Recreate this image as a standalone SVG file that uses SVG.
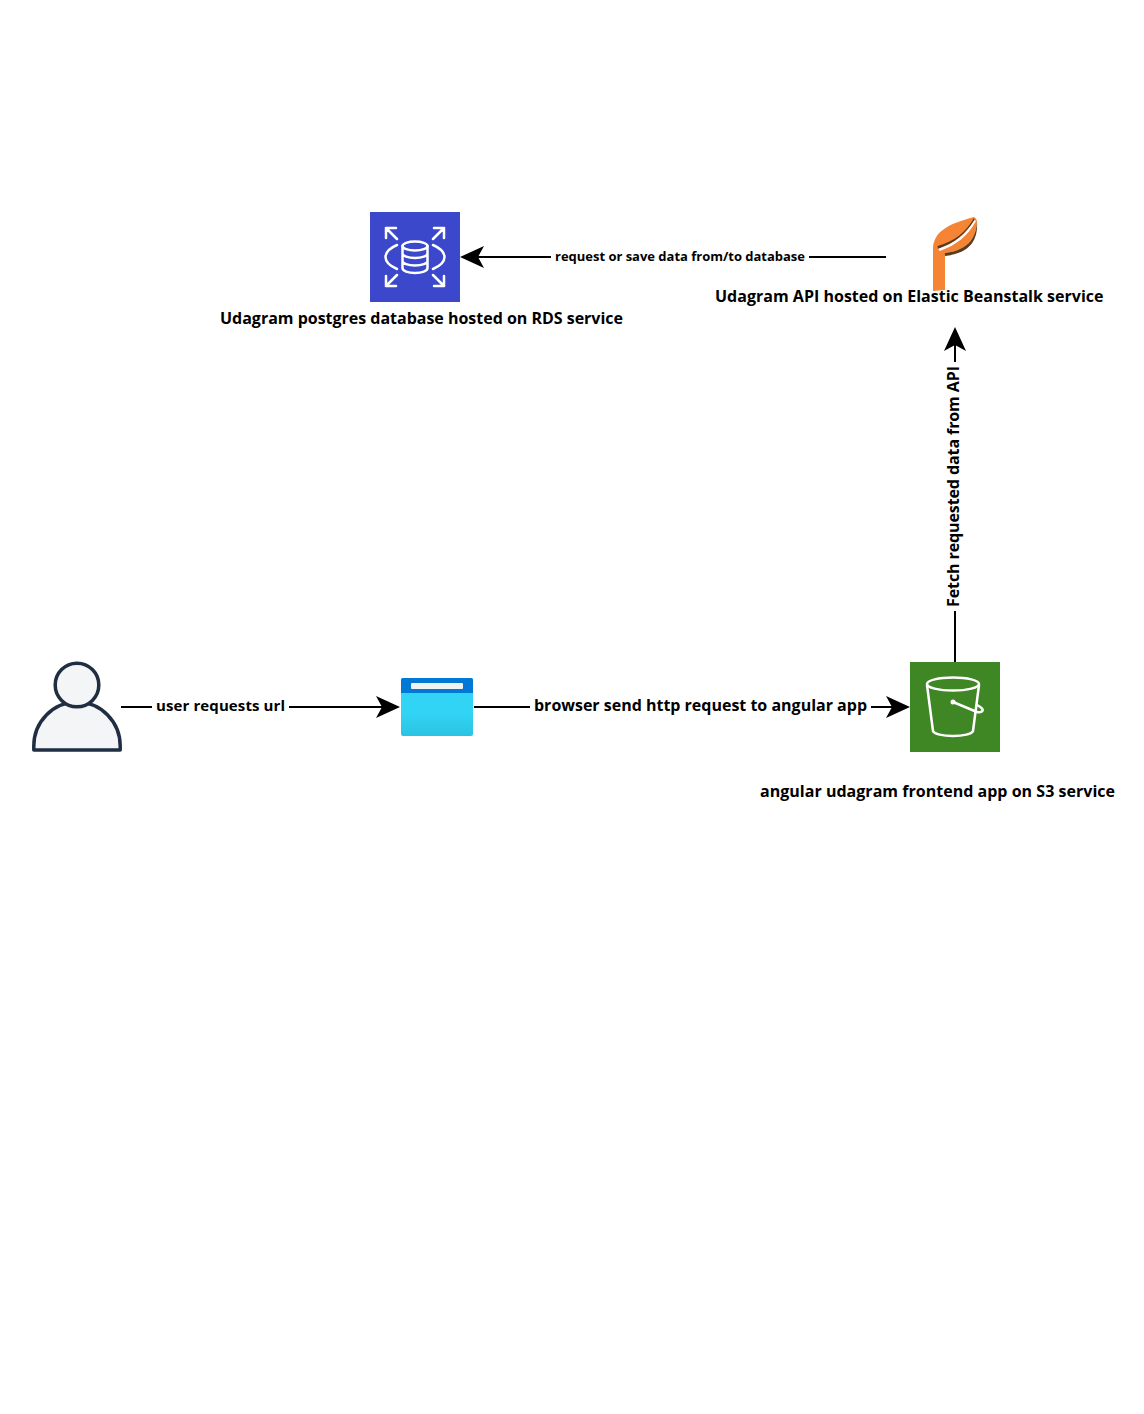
<svg xmlns="http://www.w3.org/2000/svg" width="1144" height="1414" viewBox="0 0 1144 1414">
<style>
text{font-family:"Open Sans","Noto Sans",sans-serif;font-weight:700;fill:#000}
.n{font-size:16px}
.e{font-size:15px}
.s{font-size:13px}
.c{fill:none;stroke:#000;stroke-width:2}
.w{fill:none;stroke:#fff;stroke-width:2.500;stroke-linejoin:round;stroke-linecap:round}
.bg{fill:#fff}
</style>
<defs>
<path id="ah" d="M0 0L-24 -11L-18 0L-24 11Z" fill="#000"/>
<linearGradient id="bgrad" x1="0" y1="0" x2="0" y2="1"><stop offset="0.600" stop-color="#32d4f5"/><stop offset="1" stop-color="#2cc3e3"/></linearGradient>
</defs>
<rect width="1144" height="1414" fill="#fff"/>
<g id="connectors">
<path class="c" d="M121 707H382"/><use href="#ah" transform="translate(400 707)"/>
<path class="c" d="M474 707H893"/><use href="#ah" transform="translate(910 707)"/>
<path class="c" d="M955 662V345"/><use href="#ah" transform="translate(955 327) rotate(-90)"/>
<path class="c" d="M886 257H478"/><use href="#ah" transform="translate(460 257) rotate(180)"/>
<rect class="bg" x="152" y="695" width="137" height="22"/>
<rect class="bg" x="530" y="695" width="341" height="22"/>
<rect class="bg" x="944" y="362" width="22" height="249"/>
<rect class="bg" x="551" y="247" width="258" height="20"/>
<text class="e" x="156" y="711" textLength="129">user requests url</text>
<text class="n" x="534" y="711" textLength="333">browser send http request to angular app</text>
<text class="n" transform="translate(959 607) rotate(-90)" textLength="241">Fetch requested data from API</text>
<text class="s" x="555" y="261" textLength="250">request or save data from/to database</text>
</g>
<g id="rds">
<rect x="370" y="212" width="90" height="90" fill="#3b48cc"/>
<path class="w" d="M397 245C390 248 385.500 252 385.500 257C385.500 262 390 266 397 269M433 245C440 248 444.500 252 444.500 257C444.500 262 440 266 433 269"/>
<ellipse class="w" cx="415" cy="246" rx="12.500" ry="4.500"/>
<path class="w" d="M402.500 246V268C402.500 271 408 273 415 273C422 273 427.500 271 427.500 268V246M402.500 253.500C402.500 256 408 258 415 258C422 258 427.500 256 427.500 253.500M402.500 261C402.500 263.500 408 265.500 415 265.500C422 265.500 427.500 263.500 427.500 261"/>
<path class="w" d="M386 238V228H396M386 228L397 239M444 238V228H434M444 228L433 239M386 276V286H396M386 286L397 275M444 276V286H434M444 286L433 275"/>
<text class="n" x="220" y="324" textLength="403">Udagram postgres database hosted on RDS service</text>
</g>
<g id="beanstalk">
<path d="M933 291V247C935 231 948 224 974 217C976 218 977 220 977 222C976 236 970 250 945 253V290Z" fill="#f58535"/>
<path d="M937.500 246C955 241 966 232 974 218L974.500 220C966 234 955 243 938 249Z" fill="#5e3a1c"/>
<path d="M938 249C955 243 966 234 974.500 220L976 221C968 236 956 245 940 251Z" fill="#fff"/>
<path d="M945 253C970 250 976 236 977 222C978 238 972 253 945 256Z" fill="#5e3a1c"/>
<text class="n" x="715" y="302" textLength="388.500">Udagram API hosted on Elastic Beanstalk service</text>
</g>
<g id="user">
<path d="M33.800 750V746C33.800 722 53 702 77 702C101 702 120.200 722 120.200 746V750Z" fill="#f3f5f7" stroke="#1f2e42" stroke-width="3.500" stroke-linejoin="round"/>
<circle cx="77" cy="685" r="21.800" fill="#f3f5f7" stroke="#1f2e42" stroke-width="3.500"/>
</g>
<g id="browser">
<rect x="401" y="678" width="72" height="58" rx="2" fill="url(#bgrad)"/>
<path d="M401 680a2 2 0 0 1 2-2h68a2 2 0 0 1 2 2v13h-72Z" fill="#0078d4"/>
<rect x="411" y="683" width="52" height="6" rx="1" fill="#f2f2f2"/>
</g>
<g id="s3">
<rect x="910" y="662" width="90" height="90" fill="#3f8624"/>
<ellipse class="w" cx="953" cy="684" rx="26" ry="6.500"/>
<path class="w" d="M927 685L933 731C934 734 943 736 953 736C963 736 972 734 973 731L979 685"/>
<path class="w" d="M953 702L977 712C981 713 984 711 982 708.500C981 707 979 706 977 705"/>
<circle cx="953" cy="702" r="2.500" fill="#fff"/>
<text class="n" x="760" y="797" textLength="355">angular udagram frontend app on S3 service</text>
</g>
</svg>
